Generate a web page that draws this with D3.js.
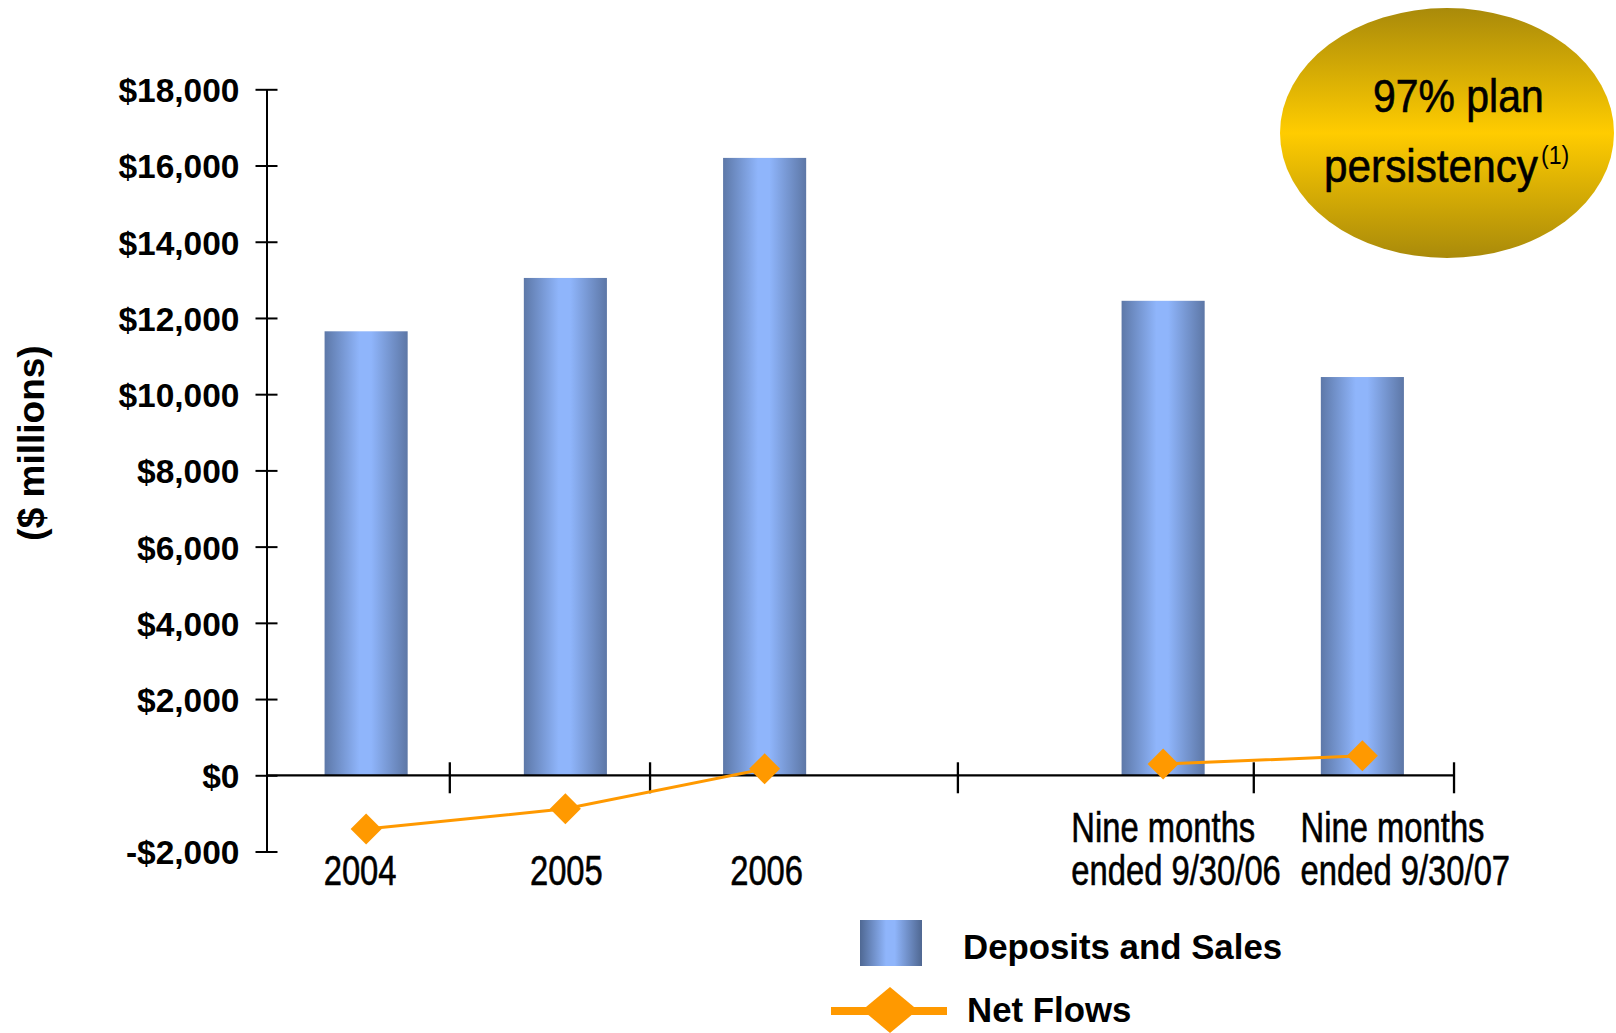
<!DOCTYPE html>
<html>
<head>
<meta charset="utf-8">
<script src="https://cdn.jsdelivr.net/npm/d3@7"></script>
<style>
  html, body { margin: 0; padding: 0; background: #ffffff; }
  svg { display: block; }
  text { font-family: "Liberation Sans", Arial, Helvetica, sans-serif; fill: #000; }
  .condensed { stroke: #000; stroke-width: 0.6px; }
</style>
</head>
<body>
<svg id="chart" width="1616" height="1033"></svg>
<script>
// ---- data ($ millions) ----
const categories = ["2004", "2005", "2006", "", "Nine months ended 9/30/06", "Nine months ended 9/30/07"];
const depositsAndSales = [11650, 13050, 16200, null, 12450, 10450];
const netFlows = [-1410, -880, 170, null, 295, 510];
const yTickValues = [-2000, 0, 2000, 4000, 6000, 8000, 10000, 12000, 14000, 16000, 18000];
const yTickLabels = ["-$2,000", "$0", "$2,000", "$4,000", "$6,000", "$8,000", "$10,000", "$12,000", "$14,000", "$16,000", "$18,000"];
// x-axis tick marks, in category-slot units (slot i spans i..i+1)
const xTickSlots = [0.92, 1.925, 3.47, 4.955, 5.96];
const seriesNames = ["Deposits and Sales", "Net Flows"];
const calloutLines = ["97% plan", "persistency"];
const calloutNote = "(1)";

// ---- layout ----
const svg = d3.select("#chart");
const plotLeft = 266.5, plotRight = 1462;
const orange = "#ff9900";
const narrow = 0.78; // horizontal squeeze for the condensed label face

const x = d3.scaleBand().domain(categories).range([plotLeft, plotRight])
  .paddingInner(0.583).paddingOuter(0.2915);
const xSlot = d3.scaleLinear().domain([0, categories.length]).range([plotLeft, plotRight]);
const y = d3.scaleLinear().domain([-2000, 18000]).range([851.5, 89.3]);

// ---- gradients ----
const defs = svg.append("defs");
function hGrad(id, edgeL, mid, edgeR) {
  const g = defs.append("linearGradient").attr("id", id)
    .attr("x1", "0%").attr("x2", "100%").attr("y1", "0%").attr("y2", "0%");
  g.append("stop").attr("offset", "0%").attr("stop-color", edgeL);
  g.append("stop").attr("offset", "42%").attr("stop-color", mid);
  g.append("stop").attr("offset", "56%").attr("stop-color", mid);
  g.append("stop").attr("offset", "100%").attr("stop-color", edgeR);
}
hGrad("barFill", "#5d78a8", "#8fb5fb", "#5d77a6");
hGrad("swatchFill", "#4f6893", "#8fb5fb", "#4f6791");
const gold = defs.append("linearGradient").attr("id", "goldFill")
  .attr("x1", "0%").attr("x2", "0%").attr("y1", "0%").attr("y2", "100%");
gold.append("stop").attr("offset", "0%").attr("stop-color", "#a98a0a");
gold.append("stop").attr("offset", "50%").attr("stop-color", "#ffcc00");
gold.append("stop").attr("offset", "100%").attr("stop-color", "#a98a0a");

// ---- bars ----
const rows = categories.map((c, i) => ({ c, dep: depositsAndSales[i], net: netFlows[i] }));
svg.append("g").selectAll("rect")
  .data(rows.filter(d => d.dep != null))
  .join("rect")
  .attr("x", d => x(d.c))
  .attr("width", x.bandwidth())
  .attr("y", d => y(d.dep))
  .attr("height", d => y(0) - y(d.dep))
  .attr("fill", "url(#barFill)");

// ---- y axis ----
const yAxis = svg.append("g")
  .attr("transform", `translate(${plotLeft},0)`)
  .call(d3.axisLeft(y).tickValues(yTickValues)
    .tickFormat((d, i) => yTickLabels[i])
    .tickSizeInner(11).tickSizeOuter(0).tickPadding(16));
yAxis.select(".domain").attr("stroke", "#000").attr("stroke-width", 2);
yAxis.selectAll(".tick line").attr("x1", 11).attr("stroke", "#000").attr("stroke-width", 2);
yAxis.selectAll(".tick text")
  .attr("dy", "0.37em")
  .style("font-family", '"Liberation Sans", Arial, sans-serif')
  .style("font-size", "33.5px").style("font-weight", "bold").attr("fill", "#000");

svg.append("text")
  .attr("transform", `translate(43.6,443) rotate(-90)`)
  .attr("text-anchor", "middle")
  .style("font-size", "37px").style("font-weight", "bold")
  .text("($ millions)");

// ---- x axis ----
const xAxis = svg.append("g");
xAxis.append("line")
  .attr("x1", plotLeft).attr("x2", xSlot(d3.max(xTickSlots)))
  .attr("y1", y(0)).attr("y2", y(0))
  .attr("stroke", "#000").attr("stroke-width", 2.2);
xAxis.selectAll(".xt").data(xTickSlots).join("line")
  .attr("class", "xt")
  .attr("x1", d => xSlot(d)).attr("x2", d => xSlot(d))
  .attr("y1", y(0) - 13).attr("y2", y(0) + 18)
  .attr("stroke", "#000").attr("stroke-width", 2.3);

// category labels: bottom-aligned, condensed; multi-line blocks are left-aligned
const labelShift = [-6, 1, 2, 0, 13, 43];
const lineGap = 43, lastBaseline = 885;
rows.forEach((d, i) => {
  if (!d.c) return;
  const cut = d.c.indexOf(" ended");
  const lines = cut > 0 ? [d.c.slice(0, cut), d.c.slice(cut + 1)] : [d.c];
  const cx = x(d.c) + x.bandwidth() / 2 + labelShift[i];
  const texts = lines.map(ln => svg.append("text")
    .attr("class", "condensed")
    .style("font-size", "42px")
    .text(ln));
  const widths = texts.map(t => t.node().getComputedTextLength() * narrow);
  const blockW = d3.max(widths);
  texts.forEach((t, k) => {
    const by = lastBaseline - (lines.length - 1 - k) * lineGap;
    if (lines.length === 1) {
      t.attr("text-anchor", "middle").attr("transform", `translate(${cx},${by}) scale(${narrow},1)`);
    } else {
      t.attr("transform", `translate(${cx - blockW / 2},${by}) scale(${narrow},1)`);
    }
  });
});

// ---- net flows line + markers ----
const line = d3.line()
  .defined(d => d.net != null)
  .x(d => x(d.c) + x.bandwidth() / 2)
  .y(d => y(d.net));
svg.append("path")
  .datum(rows)
  .attr("d", line)
  .attr("fill", "none").attr("stroke", orange).attr("stroke-width", 3);
const diamond = d3.symbol(d3.symbolSquare, 480);
svg.append("g").selectAll("path")
  .data(rows.filter(d => d.net != null))
  .join("path")
  .attr("d", diamond)
  .attr("transform", d => `translate(${x(d.c) + x.bandwidth() / 2},${y(d.net)}) rotate(45)`)
  .attr("fill", orange);

// ---- legend ----
const legend = svg.append("g");
legend.append("rect").attr("x", 860).attr("y", 920).attr("width", 62).attr("height", 46)
  .attr("fill", "url(#swatchFill)");
legend.append("line").attr("x1", 831).attr("x2", 947).attr("y1", 1011).attr("y2", 1011)
  .attr("stroke", orange).attr("stroke-width", 8);
legend.append("path")
  .attr("d", d3.symbol(d3.symbolSquare, 1058)())
  .attr("transform", "translate(890,1010) scale(1.2,1) rotate(45)")
  .attr("fill", orange);
legend.selectAll("text").data(seriesNames).join("text")
  .attr("x", (d, i) => [963, 967][i])
  .attr("y", (d, i) => [959, 1022][i])
  .style("font-size", "34.8px").style("font-weight", "bold")
  .text(d => d);

// ---- callout ----
svg.append("ellipse")
  .attr("cx", 1447).attr("cy", 133).attr("rx", 167).attr("ry", 125)
  .attr("fill", "url(#goldFill)");
const calloutScale = 0.89;
svg.append("text")
  .attr("class", "condensed")
  .attr("transform", `translate(1373,112) scale(${calloutScale},1)`)
  .style("font-size", "46px")
  .text(calloutLines[0]);
const persist = svg.append("text")
  .attr("class", "condensed")
  .attr("transform", `translate(1324,182) scale(0.92,1)`)
  .style("font-size", "46px")
  .text(calloutLines[1]);
const pw = persist.node().getComputedTextLength() * 0.92;
svg.append("text")
  .attr("transform", `translate(${1324 + pw + 3},164) scale(${calloutScale},1)`)
  .style("font-size", "26px")
  .text(calloutNote);
</script>
</body>
</html>
